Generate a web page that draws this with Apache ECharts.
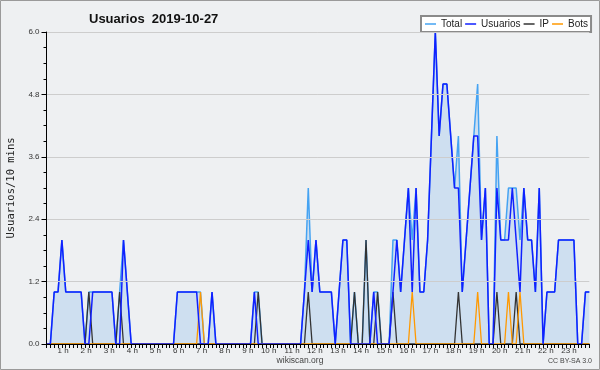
<!DOCTYPE html>
<html>
<head>
<meta charset="utf-8">
<script src="https://cdn.jsdelivr.net/npm/echarts@6/dist/echarts.min.js"></script>
<style>
html,body{margin:0;padding:0;background:#eef0f2;}
#chart{width:600px;height:370px;}
</style>
</head>
<body>
<div id="chart"></div>
<script>
// 10-minute slots, 00:00 .. 23:30
const categories = [];
for (let h = 0; h < 24; h++) {
  for (let m = 0; m < 60; m += 10) {
    if (categories.length < 142) categories.push(String(h).padStart(2, '0') + ':' + String(m).padStart(2, '0'));
  }
}

// one row per hour (6 slots)
const total = [
  0,0,1,1,2,1,
  1,1,1,1,0,1,
  1,1,1,1,1,1,
  0,1,2,1,0,0,
  0,0,0,0,0,0,
  0,0,0,0,1,1,
  1,1,1,1,1,0,
  0,1,0,0,0,0,
  0,0,0,0,0,0,
  1,1,0,0,0,0,
  0,0,0,0,0,0,
  0,1,3,1,2,1,
  1,1,1,0,1,2,
  2,0,1,0,0,2,
  0,1,1,0,0,0,
  2,2,1,2,3,2,
  3,1,1,2,4,6,
  4,5,5,4,3,4,
  1,2,3,4,5,2,
  3,0,0,4,2,2,
  3,3,3,2,3,2,
  2,1,3,0,1,1,
  1,2,2,2,2,2,
  0,0,1,1
];
const usuarios = [
  0,0,1,1,2,1,
  1,1,1,1,0,0,
  1,1,1,1,1,1,
  0,0,2,1,0,0,
  0,0,0,0,0,0,
  0,0,0,0,1,1,
  1,1,1,1,0,0,
  0,1,0,0,0,0,
  0,0,0,0,0,0,
  1,0,0,0,0,0,
  0,0,0,0,0,0,
  0,1,2,1,2,1,
  1,1,1,0,1,2,
  2,0,0,0,0,0,
  0,1,0,0,0,0,
  1,2,1,2,3,1,
  3,1,1,2,4,6,
  4,5,5,4,3,3,
  1,2,3,4,4,2,
  3,0,0,3,2,2,
  2,3,2,1,3,2,
  2,1,3,0,1,1,
  1,2,2,2,2,2,
  0,0,1,1
];
const ip = [
  0,0,0,0,0,0,
  0,0,0,0,0,1,
  0,0,0,0,0,0,
  0,1,0,0,0,0,
  0,0,0,0,0,0,
  0,0,0,0,0,0,
  0,0,0,0,0,0,
  0,0,0,0,0,0,
  0,0,0,0,0,0,
  0,1,0,0,0,0,
  0,0,0,0,0,0,
  0,0,1,0,0,0,
  0,0,0,0,0,0,
  0,0,1,0,0,2,
  0,0,1,0,0,0,
  1,0,0,0,0,0,
  0,0,0,0,0,0,
  0,0,0,0,0,1,
  0,0,0,0,0,0,
  0,0,0,1,0,0,
  0,0,1,0,0,0,
  0,0,0,0,0,0,
  0,0,0,0,0,0,
  0,0,0,0
];
const bots = [
  0,0,0,0,0,0,
  0,0,0,0,0,0,
  0,0,0,0,0,0,
  0,0,0,0,0,0,
  0,0,0,0,0,0,
  0,0,0,0,0,0,
  0,0,0,0,1,0,
  0,0,0,0,0,0,
  0,0,0,0,0,0,
  0,0,0,0,0,0,
  0,0,0,0,0,0,
  0,0,0,0,0,0,
  0,0,0,0,0,0,
  0,0,0,0,0,0,
  0,0,0,0,0,0,
  0,0,0,0,0,1,
  0,0,0,0,0,0,
  0,0,0,0,0,0,
  0,0,0,0,1,0,
  0,0,0,0,0,0,
  1,0,0,1,0,0,
  0,0,0,0,0,0,
  0,0,0,0,0,0,
  0,0,0,0
];
const seriesNames = ['Total', 'Usuarios', 'IP', 'Bots'];
const yTicks = [0, 1.2, 2.4, 3.6, 4.8, 6.0];

const smallFont = 'Liberation Sans';
const chart = echarts.init(document.getElementById('chart'), null, {renderer: 'canvas'});
chart.setOption({
  animation: false,
  backgroundColor: '#eef0f2',
  title: {
    text: 'Usuarios  2019-10-27',
    left: 84, top: 8,
    textStyle: {fontFamily: 'Liberation Sans', fontWeight: 'bold', fontSize: 13, color: '#111'}
  },
  legend: {
    data: seriesNames,
    left: 421, top: 16,
    icon: 'rect', itemWidth: 11, itemHeight: 1.5, itemGap: 3,
    padding: [3, 3, 3, 4],
    backgroundColor: '#ffffff', borderColor: '#8a8a8a', borderWidth: 2,
    textStyle: {fontFamily: smallFont, fontSize: 10, color: '#222'}
  },
  grid: {left: 46.5, right: 10.7, top: 32, bottom: 26, outerBoundsMode: 'none', containLabel: false},
  xAxis: {
    type: 'category',
    data: categories,
    boundaryGap: false,
    z: 10,
    axisLine: {lineStyle: {color: '#000', width: 1}},
    axisTick: {interval: 0, length: 4, lineStyle: {color: '#000'}},
    axisLabel: {
      interval: function (i) { return i > 0 && i % 6 === 0; },
      formatter: function (v, i) { return (i / 6) + ' h'; },
      align: 'right', padding: [0, 1, 0, 0],
      margin: 3, fontFamily: smallFont, fontSize: 8, color: '#333'
    },
    splitLine: {show: false}
  },
  yAxis: {
    type: 'value',
    min: yTicks[0], max: yTicks[yTicks.length - 1], interval: 1.2,
    z: 10,
    name: 'Usuarios/10 mins',
    nameLocation: 'middle', nameRotate: 90, nameGap: 30,
    nameTextStyle: {fontFamily: 'DejaVu Sans Mono', fontSize: 10.5, color: '#222'},
    axisLine: {show: true, lineStyle: {color: '#000', width: 1}},
    axisTick: {show: true, length: 5, lineStyle: {color: '#000'}},
    minorTick: {show: true, splitNumber: 4, length: 3, lineStyle: {color: '#000'}},
    axisLabel: {
      formatter: function (v) { return v.toFixed(1); },
      margin: 7, fontFamily: smallFont, fontSize: 8, color: '#333'
    },
    splitLine: {lineStyle: {color: '#cdcdcd', width: 1}}
  },
  series: [
    {
      name: 'Total', type: 'line', data: total, showSymbol: false, z: 1,
      itemStyle: {color: '#45a3f2'},
      lineStyle: {color: '#45a3f2', width: 1.5},
      areaStyle: {color: 'rgba(130,185,235,0.42)'}
    },
    {
      name: 'Usuarios', type: 'line', data: usuarios, showSymbol: false, z: 4,
      itemStyle: {color: '#1020ff'},
      lineStyle: {color: '#1020ff', width: 1.5}
    },
    {
      name: 'IP', type: 'line', data: ip, showSymbol: false, z: 3,
      itemStyle: {color: '#333333'},
      lineStyle: {color: '#333333', width: 1.3}
    },
    {
      name: 'Bots', type: 'line', data: bots, showSymbol: false, z: 3,
      itemStyle: {color: '#ff9900'},
      lineStyle: {color: '#ff9900', width: 1.3}
    }
  ],
  graphic: [
    {type: 'rect', silent: true, z: 100, shape: {x: 0.5, y: 0.5, width: 599, height: 369},
     style: {fill: 'none', stroke: '#9a9a9a', lineWidth: 1}},
    {type: 'text', left: 'center', top: 356, silent: true,
     style: {text: 'wikiscan.org', font: '8.5px "Liberation Sans"', fill: '#444'}},
    {type: 'text', right: 8, top: 358, silent: true,
     style: {text: 'CC BY-SA 3.0', font: '7px "Liberation Sans"', fill: '#444'}}
  ]
});
</script>
</body>
</html>
